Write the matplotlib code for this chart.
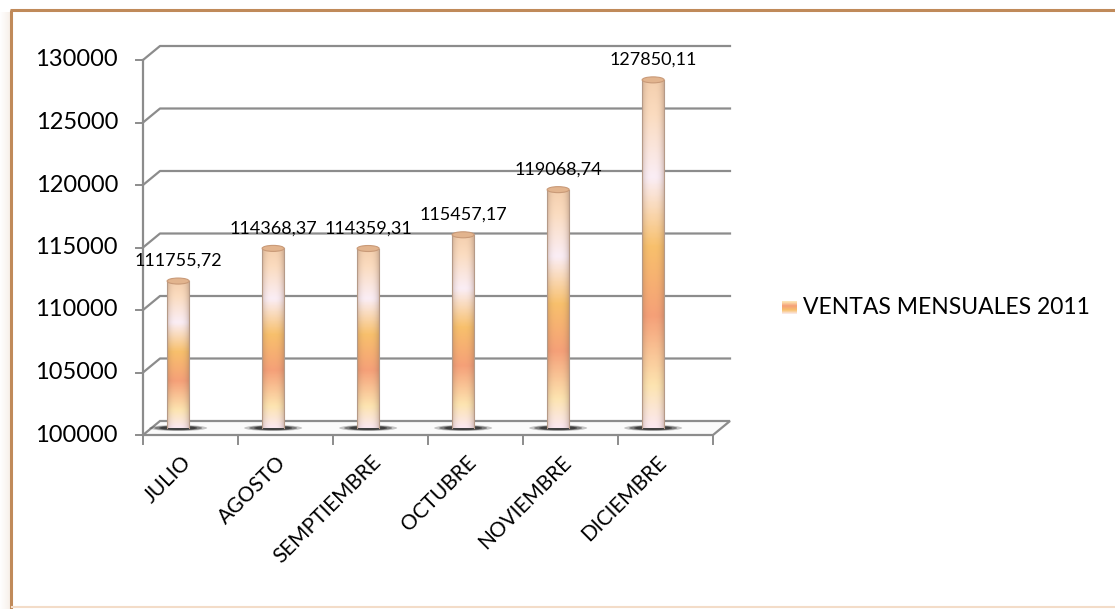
import numpy as np
import matplotlib.pyplot as plt
from matplotlib.patches import Rectangle, Ellipse, Polygon, PathPatch
from matplotlib.path import Path
from matplotlib.colors import LinearSegmentedColormap

plt.rcParams['font.family'] = ['Lato', 'DejaVu Sans']

# ---- datos ----
meses = ["JULIO", "AGOSTO", "SEMPTIEMBRE", "OCTUBRE", "NOVIEMBRE", "DICIEMBRE"]
ventas = [111755.72, 114368.37, 114359.31, 115457.17, 119068.74, 127850.11]
serie = "VENTAS MENSUALES 2011"
y_ticks = [100000, 105000, 110000, 115000, 120000, 125000, 130000]

W, H = 1115, 609
fig = plt.figure(figsize=(W / 100, H / 100), dpi=100)
fig.patch.set_facecolor("white")

# marco exterior con sombra suave a la izquierda
bg = fig.add_axes([0, 0, 1, 1], zorder=-5)
bg.set_xlim(0, W)
bg.set_ylim(H, 0)
bg.axis("off")
for k in range(10):
    bg.add_patch(Rectangle((k, 12), 1, H, color="#c08a5a", alpha=0.012 * (k + 1), lw=0))
bg.plot([11, 11], [10, H], color="#c08a5a", lw=2.2, solid_capstyle="butt")
bg.plot([10, W], [10, 10], color="#c08a5a", lw=2.2, solid_capstyle="butt")
bg.plot([12, W], [607, 607], color="#f3dcc8", lw=1.5)

# ejes: plano frontal en pixeles 143..713 (x), 60..435 (y)
x0, x1, yt, yb = 143, 713, 60, 435
ax = fig.add_axes([x0 / W, 1 - yb / H, (x1 - x0) / W, (yb - yt) / H])
ax.set_xlim(-0.5, len(meses) - 0.5)
ax.set_ylim(100000, 130000)
ax.axis("off")

px_x = (len(meses)) / (x1 - x0)          # datos por pixel en x
px_y = 30000 / (yb - yt)                 # datos por pixel en y
dx, dy = 17 * px_x, 14 * px_y            # profundidad de la vista 3D
grid_c = "#8c8c8c"
xl, xr = -0.5, len(meses) - 0.5

# pared del fondo: lineas de cuadricula
for v in y_ticks[1:]:
    ax.plot([xl, xl + dx, xr + dx], [v, v + dy, v + dy], color=grid_c, lw=1.6,
            clip_on=False, zorder=1)
    ax.plot([xl - 7 * px_x, xl], [v, v], color=grid_c, lw=1.4, clip_on=False)

# suelo
floor = Polygon([[xl, 100000], [xr, 100000], [xr + dx, 100000 + dy], [xl + dx, 100000 + dy]],
                closed=True, facecolor="#fbfbfb", edgecolor=grid_c, lw=1.6,
                clip_on=False, zorder=2)
ax.add_patch(floor)
ax.plot([xl - 7 * px_x, xl], [100000, 100000], color=grid_c, lw=1.4, clip_on=False)
ax.plot([xl, xl], [100000, 130000], color=grid_c, lw=1.6, clip_on=False, zorder=2)
for b in np.arange(len(meses) + 1) - 0.5:
    ax.plot([b, b], [100000, 100000 - 9 * px_y], color=grid_c, lw=1.4, clip_on=False)

# degradado de los cilindros
grad = LinearSegmentedColormap.from_list("cil", [
    (0.00, "#fbe8f0"), (0.12, "#fde4b0"), (0.32, "#f5a078"),
    (0.52, "#f8c06c"), (0.72, "#fbeef6"), (0.90, "#fbdcc0"), (1.00, "#f4cfae")])
ny, nx = 200, 40
vy = np.linspace(0, 1, ny)[:, None]
hx = np.linspace(-1, 1, nx)[None, :]
base = grad(np.repeat(vy, nx, axis=1))
shade = 1 - 0.3 * np.abs(hx) ** 3
img = base.copy()
img[..., :3] = base[..., :3] * shade[..., None] + (1 - shade[..., None]) * np.array([0.55, 0.42, 0.35]) * 0.9

bw = 22 * px_x
eh = 6 * px_y
off = -0.13
ybase = 100000 + dy / 2
for i, (m, v) in enumerate(zip(meses, ventas)):
    xc = i + off
    ytop = v + dy / 2
    # sombra en el suelo
    for sw, shh, a in [(58, 6, 0.25), (48, 5, 0.45), (38, 4, 0.65)]:
        ax.add_patch(Ellipse((xc, ybase), sw * px_x, shh * px_y, color="#202020", alpha=a,
                             lw=0, zorder=3, clip_on=False))
    # cuerpo del cilindro
    im = ax.imshow(img, extent=[xc - bw / 2, xc + bw / 2, ybase, ytop], origin="lower",
                   aspect="auto", zorder=4, interpolation="bilinear", clip_on=False)
    fondo = Ellipse((xc, ybase), bw, eh)
    body = Path.make_compound_path(
        Path([(xc - bw / 2, ybase), (xc + bw / 2, ybase), (xc + bw / 2, ytop),
              (xc - bw / 2, ytop), (xc - bw / 2, ybase)], closed=True),
        fondo.get_path().transformed(fondo.get_patch_transform()))
    clip = PathPatch(body, transform=ax.transData, facecolor="none", edgecolor="none")
    ax.add_patch(clip)
    im.set_clip_path(clip)
    ax.plot([xc - bw / 2, xc - bw / 2], [ybase, ytop], color="#b59a88", lw=0.8, zorder=5)
    ax.plot([xc + bw / 2, xc + bw / 2], [ybase, ytop], color="#b59a88", lw=0.8, zorder=5)
    # tapa superior
    ax.add_patch(Ellipse((xc, ytop), bw, eh, facecolor="#e2b48e", edgecolor="#c99a78",
                         lw=0.8, zorder=6, clip_on=False))
    # etiqueta de valor
    etiqueta = f"{v:.2f}".replace(".", ",")
    ax.text(xc + 0.0, ytop + 12 * px_y, etiqueta, ha="center", va="bottom",
            fontsize=13, color="black", zorder=7, clip_on=False)
    # etiqueta de categoria
    ax.text(xc + 0.03, 100000 - 17 * px_y, m, rotation=45, ha="right", va="top",
            rotation_mode="anchor", fontsize=15, color="black", clip_on=False)

# etiquetas del eje y
for v in y_ticks:
    ax.text(xl - 25 * px_x, v, f"{v}", ha="right", va="center", fontsize=17,
            color="black", clip_on=False)

# leyenda
lg = fig.add_axes([0, 0, 1, 1], zorder=10)
lg.set_xlim(0, W)
lg.set_ylim(H, 0)
lg.axis("off")
lg.imshow(grad(np.linspace(0.1, 0.7, 20))[:, None, :], extent=[782, 797, 314, 301],
          aspect="auto")
lg.set_xlim(0, W)
lg.set_ylim(H, 0)
lg.text(803, 308, serie, ha="left", va="center", fontsize=16.5, color="black")

fig.savefig("out.png", dpi=100)
